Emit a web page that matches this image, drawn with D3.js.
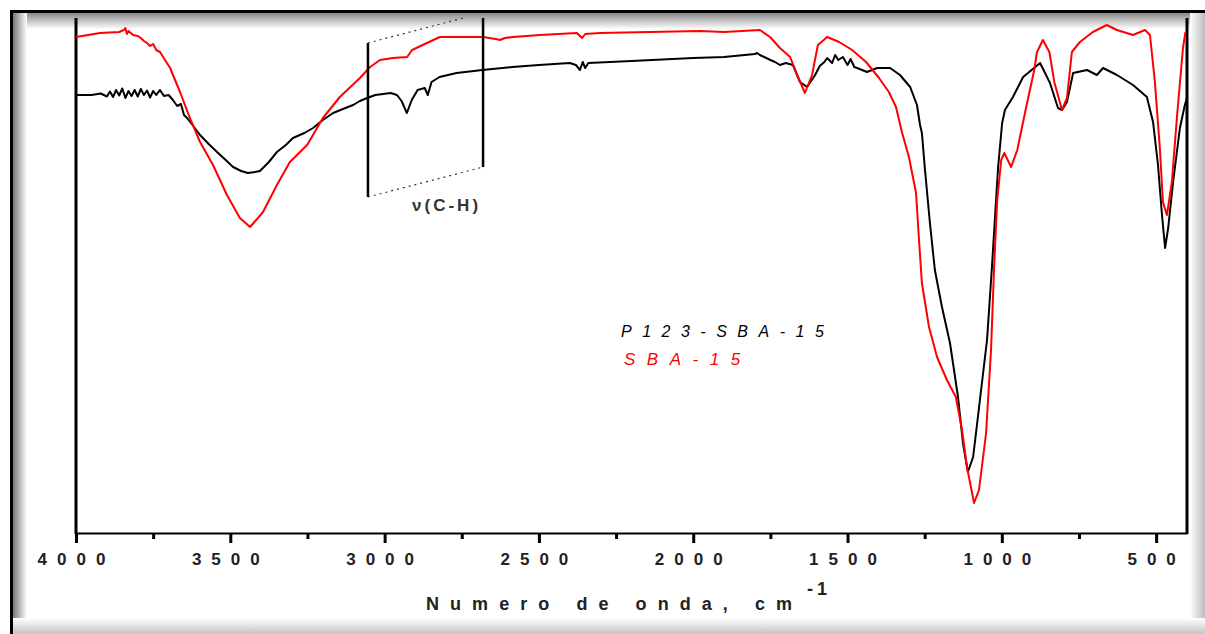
<!DOCTYPE html>
<html>
<head>
<meta charset="utf-8">
<script src="https://cdn.jsdelivr.net/npm/d3@7/dist/d3.min.js"></script>
<style>
  body { margin: 0; background: #fff; }
  svg text { font-family: "Liberation Sans", Arial, sans-serif; }
</style>
</head>
<body>
<svg id="chart"></svg>
<script>
// FTIR spectra, [wavenumber cm-1, transmittance a.u.]
var p123Spectrum = [
  [4000,87.6],[3950,87.6],[3920,87.9],[3900,87.3],[3890,88.3],[3880,87.2],[3870,88.6],[3860,87.5],
  [3850,88.9],[3840,87.0],[3830,88.4],[3820,87.4],[3810,88.6],[3800,87.3],[3790,88.8],[3780,87.6],
  [3770,88.5],[3760,87.1],[3750,88.4],[3740,87.6],[3728,88.6],[3715,87.4],[3700,87.6],[3686,86.6],
  [3672,85.4],[3660,85.8],[3650,83.6],[3640,83.0],[3620,81.4],[3598,79.6],[3570,77.8],[3543,76.2],
  [3515,74.6],[3491,73.2],[3465,72.4],[3443,72.0],[3420,72.2],[3404,72.4],[3375,74.2],[3349,76.2],
  [3320,77.6],[3297,79.0],[3260,80.0],[3232,81.0],[3200,82.6],[3167,84.0],[3135,84.8],[3102,85.6],
  [3080,86.4],[3057,87.0],[3030,87.6],[3005,87.8],[2980,88.0],[2960,87.6],[2945,86.4],[2928,84.0],
  [2912,86.6],[2893,88.6],[2870,89.0],[2860,87.6],[2848,90.2],[2822,91.2],[2767,92.0],[2683,92.6],
  [2586,93.2],[2500,93.6],[2400,94.0],[2380,93.6],[2367,92.6],[2358,94.2],[2350,93.0],[2340,94.0],
  [2200,94.4],[2000,95.0],[1900,95.2],[1800,95.8],[1793,96.0],[1784,95.6],[1770,95.2],[1750,94.6],
  [1735,94.2],[1719,93.6],[1700,94.0],[1677,93.6],[1654,90.2],[1631,89.2],[1605,91.6],[1590,93.4],
  [1575,94.2],[1566,95.0],[1550,94.0],[1540,95.6],[1530,94.6],[1515,95.2],[1500,93.6],[1490,94.8],
  [1478,93.2],[1469,93.0],[1437,92.2],[1404,93.0],[1362,93.0],[1330,91.6],[1297,89.2],[1275,85.6],
  [1265,81.6],[1259,80.0],[1249,72.6],[1233,62.0],[1217,52.6],[1194,45.2],[1168,38.0],[1142,27.2],
  [1126,18.0],[1110,12.2],[1093,15.2],[1071,26.6],[1048,38.6],[1032,53.2],[1022,63.2],[1012,73.2],
  [999,82.0],[990,84.6],[964,87.2],[931,91.2],[876,94.0],[844,90.0],[818,85.0],[805,84.6],
  [789,86.2],[769,92.0],[724,92.6],[692,91.6],[672,93.0],[627,91.6],[575,89.6],[530,87.2],
  [510,82.2],[494,73.6],[481,63.6],[471,57.0],[461,61.0],[445,70.2],[423,81.0],[407,85.6],[400,87.0]
];

var sbaSpectrum = [
  [4000,99.2],[3922,100.0],[3860,100.2],[3845,100.6],[3840,101.0],[3835,99.8],[3830,100.4],[3815,99.6],
  [3800,99.4],[3790,99.0],[3780,98.4],[3770,98.0],[3760,97.4],[3750,97.8],[3740,96.6],[3728,96.2],
  [3695,93.0],[3663,88.2],[3631,83.0],[3598,78.2],[3556,73.6],[3511,67.6],[3469,63.0],[3436,61.2],
  [3394,64.2],[3349,69.6],[3307,74.2],[3251,77.6],[3200,83.0],[3145,87.2],[3080,91.0],[3047,93.2],
  [3015,94.6],[2973,95.0],[2927,95.2],[2911,96.6],[2863,98.0],[2821,99.2],[2681,99.2],[2640,98.8],
  [2626,98.6],[2610,99.0],[2584,99.2],[2496,99.6],[2377,100.0],[2360,99.0],[2350,99.8],[2302,100.0],
  [1978,100.4],[1900,100.2],[1784,100.6],[1751,99.2],[1719,97.0],[1686,95.2],[1663,91.6],[1638,88.0],
  [1615,91.6],[1596,97.6],[1566,99.2],[1527,98.2],[1485,96.6],[1440,94.2],[1398,91.0],[1366,88.2],
  [1343,85.2],[1323,80.0],[1301,75.2],[1278,68.0],[1269,59.2],[1259,50.0],[1236,41.2],[1210,35.2],
  [1178,30.6],[1149,27.2],[1129,20.6],[1113,13.2],[1090,6.0],[1074,8.6],[1051,20.0],[1035,36.6],
  [1025,53.2],[1015,66.6],[1002,74.6],[992,76.0],[970,73.2],[950,76.6],[921,85.2],[895,92.6],
  [886,96.2],[867,98.6],[846,96.2],[830,90.2],[805,84.6],[789,87.0],[773,96.2],[747,98.2],
  [705,100.2],[660,101.6],[627,100.6],[575,99.6],[536,100.6],[520,99.6],[504,90.2],[488,77.0],
  [478,66.2],[465,63.6],[449,70.2],[432,83.6],[413,97.0],[405,100.2]
];

var majorTicks = [4000, 3500, 3000, 2500, 2000, 1500, 1000, 500];
var minorTicks = [3750, 3250, 2750, 2250, 1750, 1250, 750];
var seriesNames = ["P123-SBA-15", "SBA-15"];
var seriesColors = ["#000000", "#ff0000"];

// C-H stretching bracket: [wavenumber, value]
var chBox = [[3054, 98.0], [3054, 67.2], [2681, 73.2], [2681, 103], [2745, 103]];
var chLabel = { text: "\u03bd(C-H)", wn: 2911, value: 64.4 };

var W = 1205, H = 634;
var svg = d3.select("#chart").attr("width", W).attr("height", H);

// ---- picture frame with inner shadow ----
var defs = svg.append("defs");
function grad(id, x1, y1, x2, y2, c1, c2) {
  var g = defs.append("linearGradient").attr("id", id)
    .attr("x1", x1).attr("y1", y1).attr("x2", x2).attr("y2", y2);
  g.append("stop").attr("offset", "0%").attr("stop-color", c1);
  g.append("stop").attr("offset", "100%").attr("stop-color", c2);
}
grad("shL", 0, 0, 1, 0, "#777", "#fff");
grad("shT", 0, 0, 0, 1, "#8a8a8a", "#fff");
grad("shR", 0, 0, 1, 0, "#fff", "#bbb");
grad("shB", 0, 0, 0, 1, "#fff", "#c4c4c4");

svg.append("rect").attr("width", W).attr("height", H).attr("fill", "#fff");
svg.append("rect").attr("x", 13).attr("y", 13).attr("width", W - 13).attr("height", 16).attr("fill", "url(#shT)");
svg.append("rect").attr("x", 13).attr("y", 13).attr("width", 14).attr("height", H - 13).attr("fill", "url(#shL)");
svg.append("rect").attr("x", 1190).attr("y", 13).attr("width", 15).attr("height", H - 13).attr("fill", "url(#shR)");
svg.append("rect").attr("x", 13).attr("y", 618).attr("width", W - 13).attr("height", 16).attr("fill", "url(#shB)");
svg.append("path").attr("d", "M11.5," + H + "V11.5H" + W)
  .attr("fill", "none").attr("stroke", "#000").attr("stroke-width", 3);

// ---- scales ----
var x = d3.scaleLinear().domain([4000, 400]).range([76, 1187]);
var y = d3.scaleLinear().domain([0, 103]).range([533, 18]);

// ---- axes ----
var gx = svg.append("g").attr("transform", "translate(0,533)");
gx.call(d3.axisBottom(x).tickValues(majorTicks).tickSize(10).tickSizeOuter(0).tickFormat(d3.format("d")));
gx.select(".domain").attr("stroke-width", 2);
gx.selectAll(".tick line").attr("stroke-width", 3);
gx.selectAll(".tick text")
  .attr("y", 32)
  .attr("dy", 0)
  .style("font-size", "17px")
  .style("font-weight", "bold")
  .style("letter-spacing", "10px")
  .attr("fill", "#222");

var gm = svg.append("g").attr("transform", "translate(0,533)");
gm.call(d3.axisBottom(x).tickValues(minorTicks).tickSize(6).tickFormat(""));
gm.select(".domain").remove();
gm.selectAll(".tick line").attr("stroke-width", 3);

svg.append("line").attr("x1", x(4000)).attr("x2", x(4000)).attr("y1", y(103)).attr("y2", 534)
  .attr("stroke", "#000").attr("stroke-width", 3);
svg.append("line").attr("x1", x(400)).attr("x2", x(400)).attr("y1", y(103)).attr("y2", 534)
  .attr("stroke", "#000").attr("stroke-width", 3);

// axis title
var title = svg.append("text").attr("x", 426).attr("y", 610)
  .style("font-size", "18px").style("font-weight", "bold").attr("fill", "#222");
title.append("tspan").text("Numero de onda, cm")
  .attr("textLength", 366).attr("lengthAdjust", "spacing");
svg.append("text").attr("x", 807).attr("y", 595).text("-1")
  .style("font-size", "18px").style("font-weight", "bold").style("letter-spacing", "4px").attr("fill", "#222");

// ---- spectra ----
var line = d3.line().x(function (d) { return x(d[0]); }).y(function (d) { return y(d[1]); });
[p123Spectrum, sbaSpectrum].forEach(function (s, i) {
  svg.append("path").datum(s).attr("d", line)
    .attr("fill", "none").attr("stroke", seriesColors[i]).attr("stroke-width", 2)
    .attr("stroke-linejoin", "round");
});

// ---- C-H annotation ----
svg.append("line").attr("x1", x(chBox[0][0])).attr("y1", y(chBox[0][1]))
  .attr("x2", x(chBox[1][0])).attr("y2", y(chBox[1][1]))
  .attr("stroke", "#000").attr("stroke-width", 2.5);
svg.append("line").attr("x1", x(chBox[2][0])).attr("y1", y(chBox[2][1]))
  .attr("x2", x(chBox[3][0])).attr("y2", y(chBox[3][1]))
  .attr("stroke", "#000").attr("stroke-width", 2.5);
svg.append("line").attr("x1", x(chBox[1][0])).attr("y1", y(chBox[1][1]))
  .attr("x2", x(chBox[2][0])).attr("y2", y(chBox[2][1]))
  .attr("stroke", "#333").attr("stroke-width", 1.2).attr("stroke-dasharray", "2,4");
svg.append("line").attr("x1", x(chBox[0][0])).attr("y1", y(chBox[0][1]))
  .attr("x2", x(chBox[4][0])).attr("y2", y(chBox[4][1]))
  .attr("stroke", "#333").attr("stroke-width", 1.2).attr("stroke-dasharray", "2,4");
svg.append("text").attr("x", x(chLabel.wn)).attr("y", y(chLabel.value)).text(chLabel.text)
  .style("font-size", "17px").style("font-weight", "bold").style("letter-spacing", "3px").attr("fill", "#333");

// ---- legend ----
var legend = svg.append("g");
legend.selectAll("text").data(seriesNames).join("text")
  .attr("x", function (d, i) { return i === 0 ? 621 : 624; })
  .attr("y", function (d, i) { return i === 0 ? 337 : 365; })
  .text(function (d) { return d; })
  .attr("fill", function (d, i) { return seriesColors[i]; })
  .style("font-size", function (d, i) { return i === 0 ? "16px" : "17px"; })
  .style("font-style", "italic")
  .style("letter-spacing", function (d, i) { return i === 0 ? "10.5px" : "11.5px"; });
</script>
</body>
</html>
